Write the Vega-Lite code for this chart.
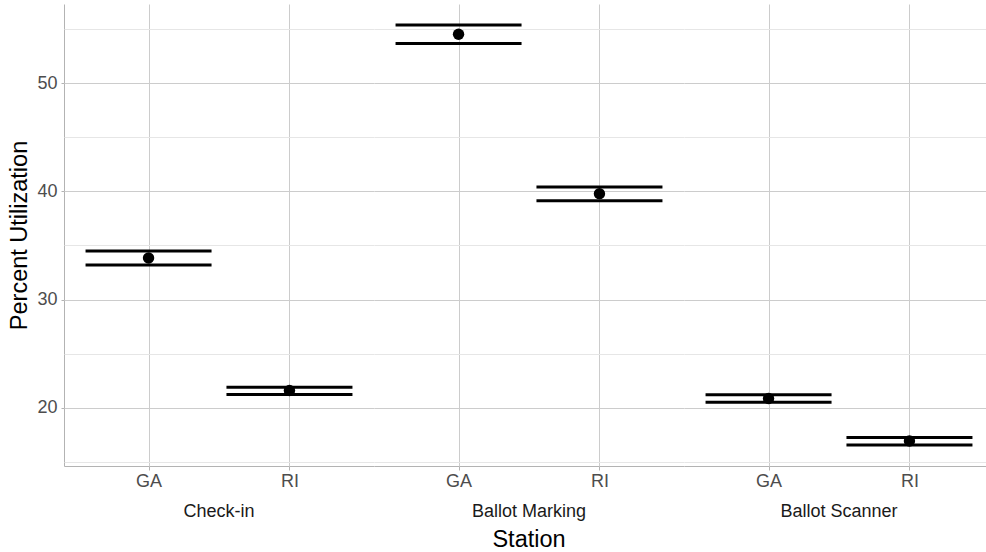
{
  "$schema": "https://vega.github.io/schema/vega-lite/v6.json",
  "padding": {"left": 7, "top": 4, "right": 0, "bottom": 0},
  "background": "white",
  "data": {"values": [
    {"station": "Check-in", "state": "GA", "mean": 33.85, "lower": 33.2, "upper": 34.5},
    {"station": "Check-in", "state": "RI", "mean": 21.6, "lower": 21.23, "upper": 21.9},
    {"station": "Ballot Marking", "state": "GA", "mean": 54.52, "lower": 53.66, "upper": 55.38},
    {"station": "Ballot Marking", "state": "RI", "mean": 39.79, "lower": 39.14, "upper": 40.4},
    {"station": "Ballot Scanner", "state": "GA", "mean": 20.86, "lower": 20.52, "upper": 21.2},
    {"station": "Ballot Scanner", "state": "RI", "mean": 16.93, "lower": 16.56, "upper": 17.26}
  ]},
  "facet": {
    "column": {
      "field": "station",
      "type": "nominal",
      "sort": ["Check-in", "Ballot Marking", "Ballot Scanner"],
      "title": "Station",
      "header": {
        "labelOrient": "bottom",
        "titleOrient": "bottom",
        "labelFontSize": 18,
        "labelColor": "#1a1a1a",
        "labelFont": "Liberation Sans",
        "titleFont": "Liberation Sans",
        "titleFontSize": 23.5,
        "titleFontWeight": "normal",
        "titleColor": "#000000",
        "labelPadding": 13,
        "titlePadding": -3
      }
    }
  },
  "spacing": 0,
  "spec": {
    "width": 310,
    "height": 462,
    "encoding": {
      "x": {
        "field": "state",
        "type": "nominal",
        "scale": {"type": "point", "padding": 0.6},
        "axis": {
          "title": null,
          "labelAngle": 0,
          "labelFontSize": 18,
          "labelColor": "#4d4d4d",
          "labelFont": "Liberation Sans",
          "labelPadding": 2,
          "grid": true,
          "gridColor": "#cccccc",
          "gridWidth": 1,
          "domain": true,
          "domainColor": "#b3b3b3",
          "domainWidth": 1,
          "tickColor": "#b3b3b3",
          "tickSize": 4
        }
      }
    },
    "layer": [
      {
        "mark": {"type": "tick", "color": "black", "thickness": 3, "size": 126, "opacity": 1},
        "encoding": {
          "y": {
            "field": "upper",
            "type": "quantitative",
            "scale": {"domain": [14.62, 57.32], "nice": false, "zero": false},
            "axis": {
              "title": "Percent Utilization",
              "titleFontSize": 23.5,
              "titleFontWeight": "normal",
              "titleColor": "#000000",
              "titleFont": "Liberation Sans",
              "titlePadding": 5,
              "values": [15, 20, 25, 30, 35, 40, 45, 50, 55],
              "labelExpr": "datum.value % 10 === 0 ? datum.label : ''",
              "labelFontSize": 18,
              "labelColor": "#4d4d4d",
              "labelFont": "Liberation Sans",
              "labelPadding": 4,
              "grid": true,
              "gridColor": {"condition": {"test": "datum.value % 10 === 0", "value": "#cccccc"}, "value": "#e6e6e6"},
              "gridWidth": 1,
              "domain": true,
              "domainColor": "#b3b3b3",
              "domainWidth": 1,
              "ticks": true,
              "tickSize": 3,
              "tickColor": {"condition": {"test": "datum.value % 10 === 0", "value": "#b3b3b3"}, "value": "rgba(0,0,0,0)"}
            }
          }
        }
      },
      {
        "mark": {"type": "tick", "color": "black", "thickness": 3, "size": 126, "opacity": 1},
        "encoding": {"y": {"field": "lower", "type": "quantitative"}}
      },
      {
        "mark": {"type": "point", "filled": true, "color": "black", "size": 130, "opacity": 1},
        "encoding": {"y": {"field": "mean", "type": "quantitative"}}
      }
    ]
  },
  "config": {
    "view": {"stroke": null},
    "font": "Liberation Sans"
  }
}
